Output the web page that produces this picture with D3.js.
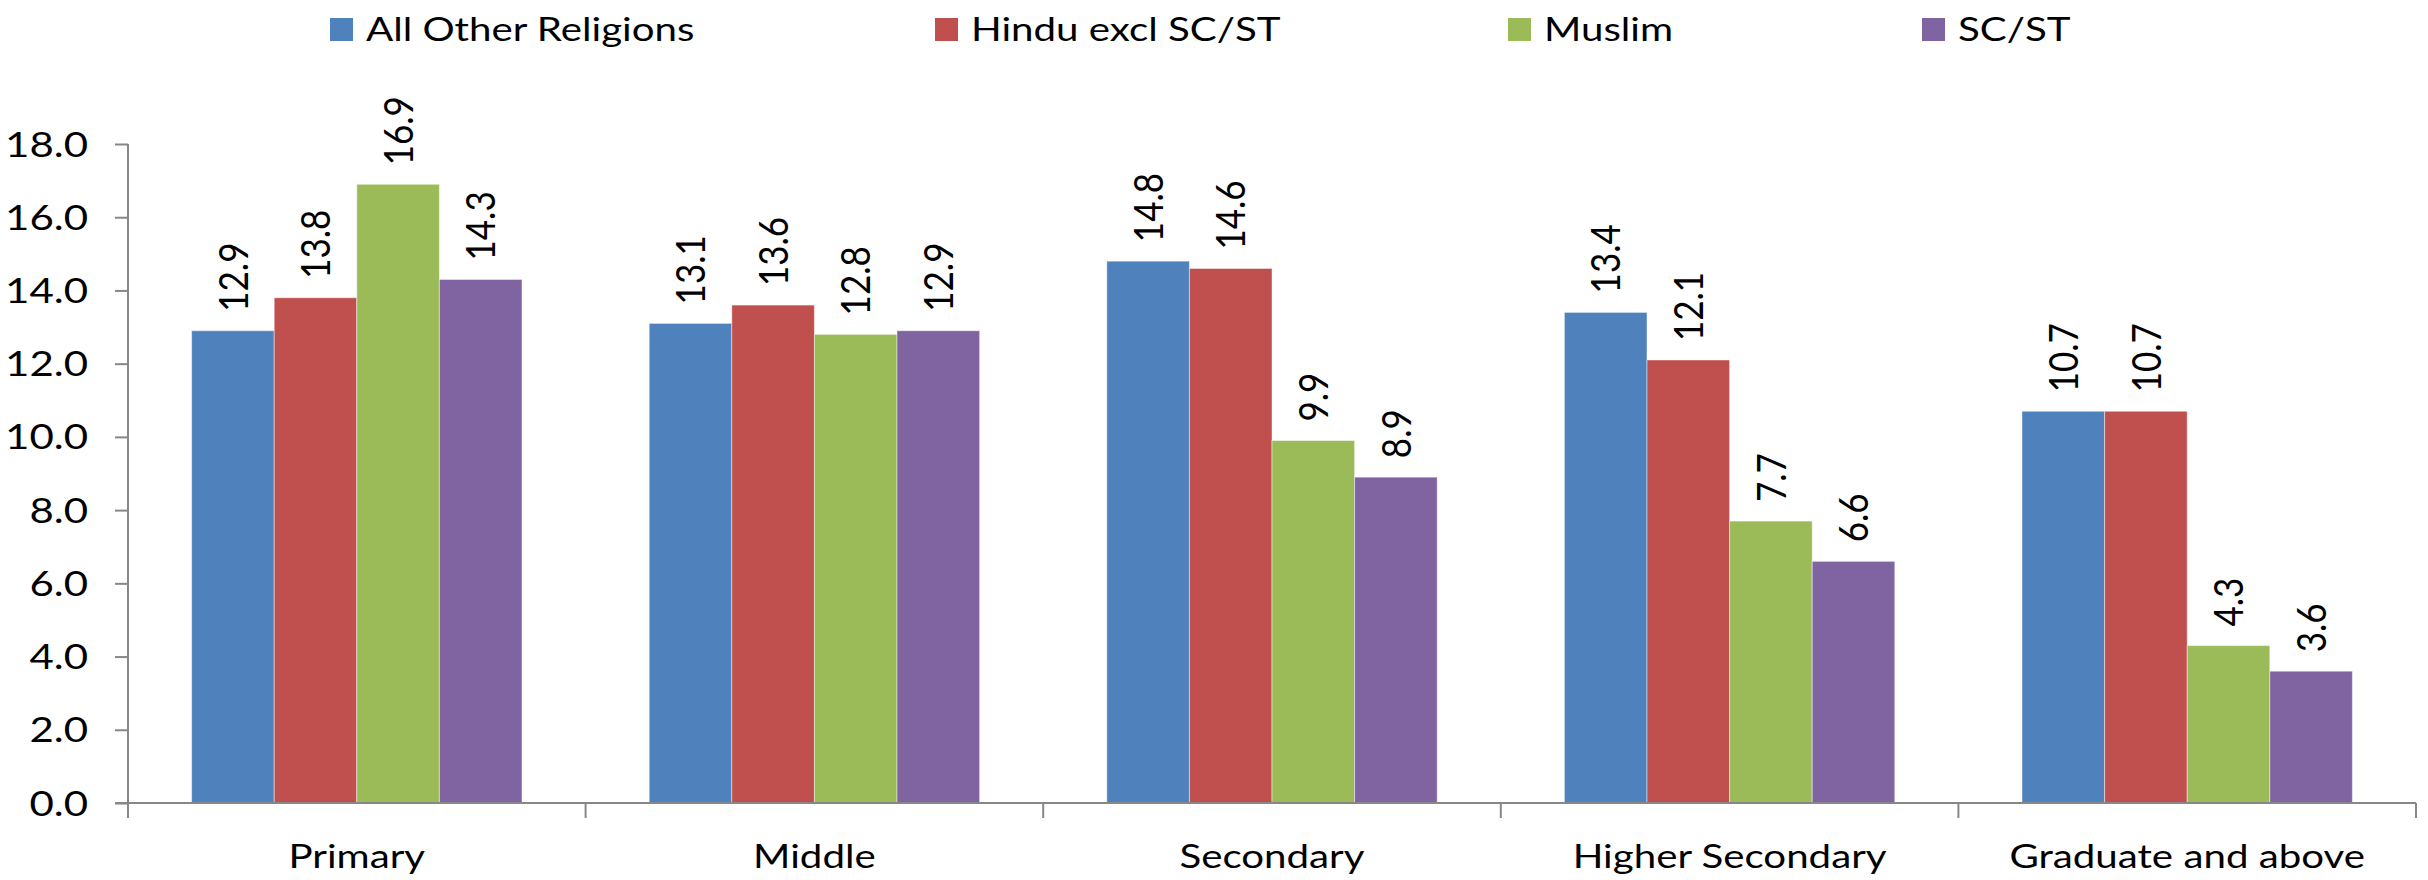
<!DOCTYPE html>
<html>
<head>
<meta charset="utf-8">
<script src="https://cdn.jsdelivr.net/npm/d3@7"></script>
<style>
  html, body { margin: 0; padding: 0; background: #fff; }
  svg { display: block; }
  text { font-family: Lato, "Open Sans", sans-serif; fill: #000; }
</style>
</head>
<body>
<svg id="chart" width="2428" height="880"></svg>
<script>
// Education levels along the x axis
const categories = ["Primary", "Middle", "Secondary", "Higher Secondary", "Graduate and above"];
// Social/religious groups
const seriesNames = ["All Other Religions", "Hindu excl SC/ST", "Muslim", "SC/ST"];
const seriesColors = ["#4F81BD", "#C0504D", "#9BBB59", "#8064A2"];
// Values per group, one entry per education level
const allOtherReligions = [12.9, 13.1, 14.8, 13.4, 10.7];
const hinduExclSCST     = [13.8, 13.6, 14.6, 12.1, 10.7];
const muslim            = [16.9, 12.8,  9.9,  7.7,  4.3];
const scst              = [14.3, 12.9,  8.9,  6.6,  3.6];
const yTicks = [0, 2, 4, 6, 8, 10, 12, 14, 16, 18];

const seriesValues = [allOtherReligions, hinduExclSCST, muslim, scst];

const svg = d3.select("#chart");
const stretch = 1.17; // horizontal widening applied to number glyphs
const wordStretch = 1.22; // horizontal widening applied to word labels

const plot = { left: 128, right: 2416, top: 144, bottom: 803 };

const x0 = d3.scaleBand().domain(categories).range([plot.left, plot.right]).padding(0);
const groupPad = x0.bandwidth() * 0.139;
const x1 = d3.scaleBand().domain(seriesNames).range([groupPad, x0.bandwidth() - groupPad]).padding(0);
const y = d3.scaleLinear().domain([0, 18]).range([plot.bottom, plot.top]);

// Bars
const groups = svg.append("g").selectAll("g")
  .data(categories)
  .join("g")
  .attr("transform", d => `translate(${x0(d)},0)`);

groups.selectAll("rect")
  .data((c, ci) => seriesNames.map((s, si) => ({ s, si, v: seriesValues[si][ci] })))
  .join("rect")
  .attr("x", d => x1(d.s))
  .attr("width", x1.bandwidth())
  .attr("y", d => y(d.v))
  .attr("height", d => y(0) - y(d.v))
  .attr("fill", d => seriesColors[d.si])
  .attr("stroke", "rgba(255,255,255,0.45)")
  .attr("stroke-width", 1);

// Rotated value labels above each bar
groups.selectAll("text.val")
  .data((c, ci) => seriesNames.map((s, si) => ({ s, si, v: seriesValues[si][ci] })))
  .join("text")
  .attr("class", "val")
  .attr("transform", d => `translate(${x1(d.s) + x1.bandwidth() / 2},${y(d.v) - 19}) scale(${stretch},1) rotate(-90)`)
  .attr("dy", "0.36em")
  .attr("text-anchor", "start")
  .style("font-size", "35px")
  .text(d => d.v.toFixed(1));

// Y axis
const yAxis = d3.axisLeft(y).tickValues(yTicks).tickSize(13).tickPadding(0).tickFormat(d3.format(".1f"));
const yG = svg.append("g").attr("transform", `translate(${plot.left},0)`).call(yAxis);
yG.select(".domain").attr("stroke", "#878787").attr("stroke-width", 2).attr("d", `M0,${plot.top}V${plot.bottom}`);
yG.selectAll(".tick line").attr("stroke", "#878787").attr("stroke-width", 2);
yG.selectAll(".tick text")
  .attr("x", null)
  .attr("dy", null)
  .attr("transform", `translate(-40,12) scale(1.2,1)`)
  .attr("text-anchor", "end")
  .style("font-family", "Lato, sans-serif")
  .style("font-size", "35px")
  .attr("fill", "#000");

// X axis
const xAxis = d3.axisBottom(x0).tickSize(0).tickFormat("");
const xG = svg.append("g").attr("transform", `translate(0,${plot.bottom})`).call(xAxis);
xG.select(".domain").attr("stroke", "#878787").attr("stroke-width", 2).attr("d", `M${plot.left - 13},0H${plot.right}`);
xG.selectAll(".tick").remove();

// Category separators
const seps = categories.map(c => x0(c)).concat([plot.right]);
svg.append("g").selectAll("line")
  .data(seps)
  .join("line")
  .attr("x1", d => d).attr("x2", d => d)
  .attr("y1", plot.bottom).attr("y2", plot.bottom + 15)
  .attr("stroke", "#878787").attr("stroke-width", 2);

// Category labels
svg.append("g").selectAll("text")
  .data(categories)
  .join("text")
  .attr("transform", d => `translate(${x0(d) + x0.bandwidth() / 2},868) scale(${wordStretch},1)`)
  .attr("text-anchor", "middle")
  .style("font-size", "33px")
  .text(d => d);

// Legend
const legendX = [330, 935, 1508, 1922];
const legend = svg.append("g").selectAll("g")
  .data(seriesNames)
  .join("g")
  .attr("transform", (d, i) => `translate(${legendX[i]},0)`);
legend.append("rect")
  .attr("x", 0).attr("y", 18).attr("width", 23).attr("height", 23)
  .attr("fill", (d, i) => seriesColors[i]);
legend.append("text")
  .attr("transform", `translate(36,41) scale(${wordStretch},1)`)
  .style("font-size", "33px")
  .text(d => d);
</script>
</body>
</html>
